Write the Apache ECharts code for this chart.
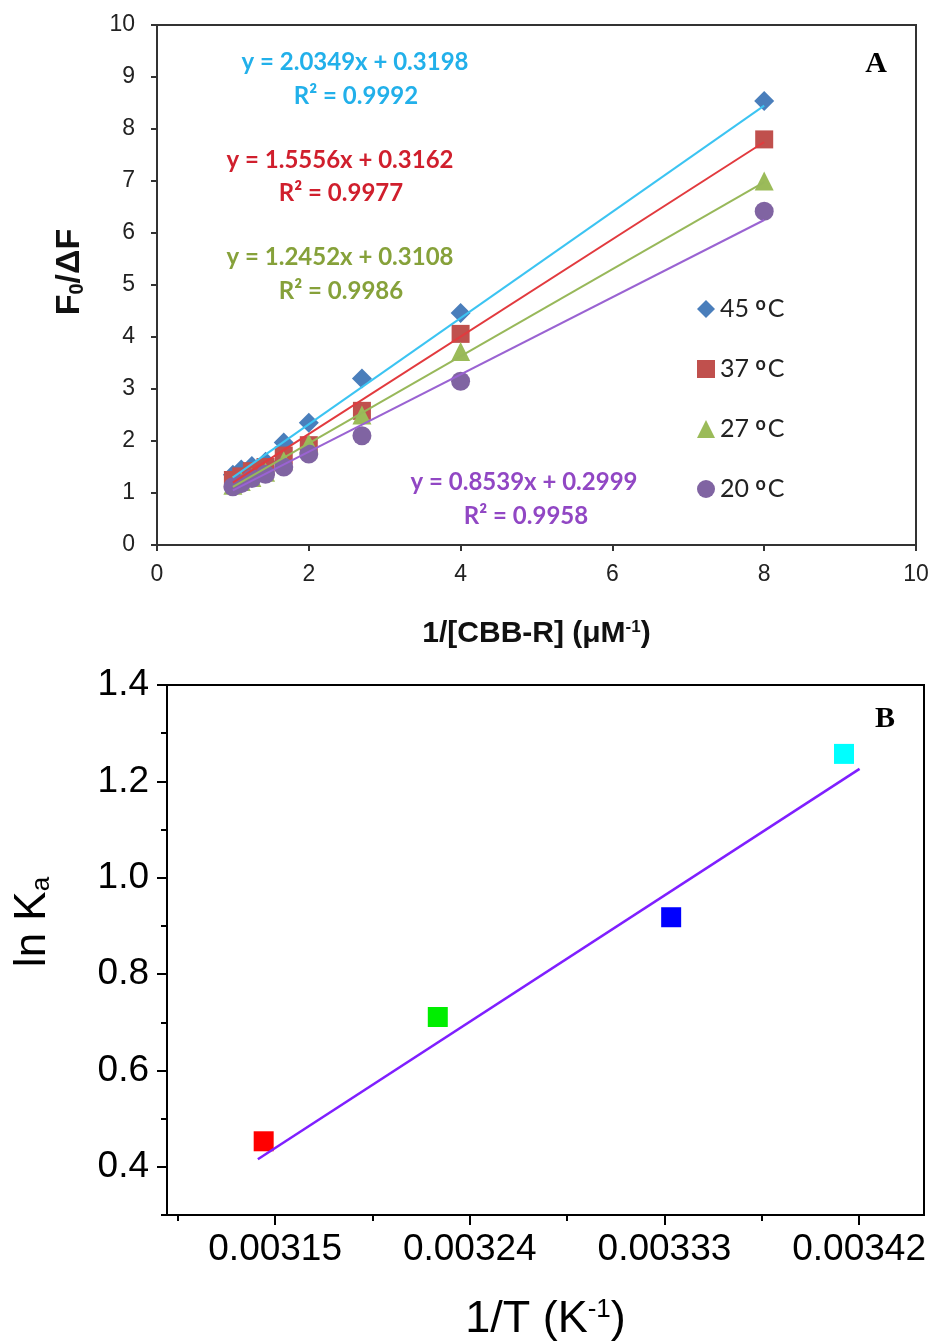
<!DOCTYPE html>
<html>
<head>
<meta charset="utf-8">
<title>Stern-Volmer / van't Hoff</title>
<script src="https://cdn.jsdelivr.net/npm/echarts@6.0.0/dist/echarts.min.js"></script>
<style>
  html, body { margin: 0; padding: 0; background: #fff; }
  #main { width: 932px; height: 1341px; }
</style>
</head>
<body>
<div id="main"></div>
<script>
// ---- panel A data: F0/dF vs 1/[CBB-R] ----
const xConc = [1.0, 1.11, 1.25, 1.43, 1.67, 2.0, 2.7, 4.0, 8.0]
const y45 = [1.35, 1.45, 1.52, 1.6, 1.97, 2.35, 3.2, 4.46, 8.54]
const y37 = [1.25, 1.32, 1.42, 1.5, 1.72, 1.92, 2.58, 4.06, 7.8]
const y27 = [1.15, 1.22, 1.3, 1.4, 1.62, 1.95, 2.5, 3.72, 7.0]
const y20 = [1.12, 1.18, 1.28, 1.36, 1.5, 1.75, 2.1, 3.15, 6.42]
// trend lines (ends)
const fitXA = [1.0, 8.0]
const fit45 = [1.3, 8.45]
const fit37 = [1.2, 7.75]
const fit27 = [1.12, 6.98]
const fit20 = [1.05, 6.25]
const tempNames = ['45', '37', '27', '20']

// ---- panel B data: ln Ka vs 1/T ----
const invT = [0.0031447, 0.0032252, 0.0033331, 0.003413]
const lnKa = [0.453, 0.711, 0.918, 1.257]
const pointColorsB = ['#ff0000', '#00ee00', '#0000ff', '#00ffff']
const fitXB = [0.003142, 0.0034202]
const fitYB = [0.4156, 1.226]
const xMajorB = [0.00315, 0.00324, 0.00333, 0.00342]
const xMinorB = [0.003105, 0.003195, 0.003285, 0.003375]
const yMajorB = [0.4, 0.6, 0.8, 1.0, 1.2, 1.4]
const yMinorB = [0.3, 0.5, 0.7, 0.9, 1.1, 1.3]

const pair = (xs, ys) => xs.map((x, i) => [x, ys[i]])

const axisA = {
  axisLine: { show: true, lineStyle: { color: '#333', width: 2 } },
  axisTick: { show: true, inside: false, length: 6, lineStyle: { color: '#333', width: 2 } },
  splitLine: { show: false }
}
const labelA = { fontFamily: 'Liberation Sans', fontSize: 23, color: '#222' }

const axisB = {
  axisLine: { show: true, lineStyle: { color: '#000', width: 2 } },
  splitLine: { show: false }
}
const labelB = { fontFamily: 'Liberation Sans', fontSize: 37, color: '#000' }

const eqFont = 'bold 24px Lato'
function eq (text, x, y, color) {
  return { type: 'text', x: x, y: y, style: { text: text, font: eqFont, fill: color, align: 'center', verticalAlign: 'middle' } }
}

const myChart = echarts.init(document.getElementById('main'))
const option = {
  animation: false,
  backgroundColor: '#fff',
  grid: [
    { left: 157, top: 25, right: 16, bottom: 796, outerBoundsMode: 'none', show: true, borderColor: '#333', borderWidth: 2 },
    { left: 167, top: 685, right: 8, bottom: 126, outerBoundsMode: 'none', show: true, borderColor: '#000', borderWidth: 2 }
  ],
  legend: {
    data: tempNames,
    orient: 'vertical',
    left: 692,
    top: 290,
    itemWidth: 18,
    itemHeight: 18,
    itemGap: 32,
    formatter: name => name + ' {sup|o}C',
    textStyle: {
      fontFamily: 'Lato',
      fontSize: 25,
      color: '#222',
      lineHeight: 28,
      rich: { sup: { fontSize: 18, fontWeight: 'bold', verticalAlign: 'top', lineHeight: 28, padding: [0, 2, 10, 0] } }
    }
  },
  xAxis: [
    Object.assign({}, axisA, {
      gridIndex: 0, type: 'value', min: 0, max: 10, interval: 2,
      axisLabel: Object.assign({ margin: 18 }, labelA),
      name: '1/[CBB-R] (μM{sup|-1})',
      nameLocation: 'middle',
      nameGap: 74,
      nameTextStyle: {
        fontFamily: 'Liberation Sans', fontSize: 30, fontWeight: 'bold', color: '#111',
        rich: { sup: { fontFamily: 'Liberation Sans', fontSize: 17, fontWeight: 'bold', verticalAlign: 'top', padding: [0, 0, 12, 0] } }
      }
    }),
    Object.assign({}, axisB, {
      gridIndex: 1, type: 'value', min: 0.0031, max: 0.00345, position: 'bottom',
      axisTick: { show: true, inside: false, length: 10, customValues: xMajorB, lineStyle: { color: '#000', width: 2 } },
      axisLabel: Object.assign({ margin: 16, customValues: xMajorB, formatter: v => v.toFixed(5) }, labelB),
      name: '1/T (K{sup|-1})',
      nameLocation: 'middle',
      nameGap: 82,
      nameTextStyle: {
        fontFamily: 'Liberation Sans', fontSize: 45, color: '#000',
        rich: { sup: { fontFamily: 'Liberation Sans', fontSize: 26, verticalAlign: 'top', padding: [0, 0, 18, 0] } }
      }
    }),
    // minor ticks for B
    {
      gridIndex: 1, type: 'value', min: 0.0031, max: 0.00345, position: 'bottom',
      axisLine: { show: false },
      axisTick: { show: true, inside: false, length: 6, customValues: xMinorB, lineStyle: { color: '#000', width: 2 } },
      axisLabel: { show: false },
      splitLine: { show: false }
    }
  ],
  yAxis: [
    Object.assign({}, axisA, {
      gridIndex: 0, type: 'value', min: 0, max: 10, interval: 1,
      axisLabel: Object.assign({ margin: 22 }, labelA),
      name: 'F{sub|0}/ΔF',
      nameLocation: 'middle',
      nameRotate: 90,
      nameGap: 70,
      nameTextStyle: {
        fontFamily: 'Liberation Sans', fontSize: 34, fontWeight: 'bold', color: '#111',
        padding: [0, 0, 0, 26],
        rich: { sub: { fontFamily: 'Liberation Sans', fontSize: 20, fontWeight: 'bold', verticalAlign: 'bottom', padding: [10, 0, 0, 0] } }
      }
    }),
    Object.assign({}, axisB, {
      gridIndex: 1, type: 'value', min: 0.3, max: 1.4, position: 'left',
      axisTick: { show: true, inside: false, length: 10, customValues: yMajorB, lineStyle: { color: '#000', width: 2 } },
      axisLabel: Object.assign({ margin: 18, customValues: yMajorB, formatter: v => v.toFixed(1) }, labelB),
      name: 'ln K{sub|a}',
      nameLocation: 'middle',
      nameRotate: 90,
      nameGap: 112,
      nameTextStyle: {
        fontFamily: 'Liberation Sans', fontSize: 44, color: '#000',
        padding: [0, 0, 0, 56],
        rich: { sub: { fontFamily: 'Liberation Sans', fontSize: 26, verticalAlign: 'bottom', padding: [16, 0, 0, 0] } }
      }
    }),
    {
      gridIndex: 1, type: 'value', min: 0.3, max: 1.4, position: 'left',
      axisLine: { show: false },
      axisTick: { show: true, inside: false, length: 6, customValues: yMinorB, lineStyle: { color: '#000', width: 2 } },
      axisLabel: { show: false },
      splitLine: { show: false }
    }
  ],
  series: [
    { name: '45', type: 'scatter', xAxisIndex: 0, yAxisIndex: 0, symbol: 'diamond', symbolSize: 20, itemStyle: { color: '#4a7ebb', opacity: 1 }, data: pair(xConc, y45) },
    { name: '37', type: 'scatter', xAxisIndex: 0, yAxisIndex: 0, symbol: 'rect', symbolSize: 18, itemStyle: { color: '#c0504d', opacity: 1 }, data: pair(xConc, y37) },
    { name: '27', type: 'scatter', xAxisIndex: 0, yAxisIndex: 0, symbol: 'triangle', symbolSize: 19, itemStyle: { color: '#9bbb59', opacity: 1 }, data: pair(xConc, y27) },
    { name: '20', type: 'scatter', xAxisIndex: 0, yAxisIndex: 0, symbol: 'circle', symbolSize: 19, itemStyle: { color: '#8064a2', opacity: 1 }, data: pair(xConc, y20) },
    { name: 'fit45', type: 'line', xAxisIndex: 0, yAxisIndex: 0, symbol: 'none', z: 5, lineStyle: { color: '#3cc4f2', width: 2 }, data: pair(fitXA, fit45) },
    { name: 'fit37', type: 'line', xAxisIndex: 0, yAxisIndex: 0, symbol: 'none', z: 5, lineStyle: { color: '#e23a3e', width: 2 }, data: pair(fitXA, fit37) },
    { name: 'fit27', type: 'line', xAxisIndex: 0, yAxisIndex: 0, symbol: 'none', z: 5, lineStyle: { color: '#98b85a', width: 2 }, data: pair(fitXA, fit27) },
    { name: 'fit20', type: 'line', xAxisIndex: 0, yAxisIndex: 0, symbol: 'none', z: 5, lineStyle: { color: '#9a63d2', width: 2 }, data: pair(fitXA, fit20) },
    {
      name: 'lnKa', type: 'scatter', xAxisIndex: 1, yAxisIndex: 1, symbol: 'rect', symbolSize: 20,
      data: invT.map((x, i) => ({ value: [x, lnKa[i]], itemStyle: { color: pointColorsB[i], opacity: 1 } }))
    },
    { name: 'fitB', type: 'line', xAxisIndex: 1, yAxisIndex: 1, symbol: 'none', lineStyle: { color: '#7f1fff', width: 2.5 }, data: pair(fitXB, fitYB) }
  ],
  graphic: [
    eq('y = 2.0349x + 0.3198', 355, 62, '#22b0ea'),
    eq('R² = 0.9992', 356, 96, '#22b0ea'),
    eq('y = 1.5556x + 0.3162', 340, 160, '#d01f2d'),
    eq('R² = 0.9977', 341, 193, '#d01f2d'),
    eq('y = 1.2452x + 0.3108', 340, 257, '#86a13a'),
    eq('R² = 0.9986', 341, 291, '#86a13a'),
    eq('y = 0.8539x + 0.2999', 524, 482, '#9147c4'),
    eq('R² = 0.9958', 526, 516, '#9147c4'),
    { type: 'text', x: 876, y: 64, style: { text: 'A', font: 'bold 30px "Liberation Serif"', fill: '#000', align: 'center', verticalAlign: 'middle' } },
    { type: 'text', x: 885, y: 719, style: { text: 'B', font: 'bold 30px "Liberation Serif"', fill: '#000', align: 'center', verticalAlign: 'middle' } }
  ]
}
myChart.setOption(option)
</script>
</body>
</html>
